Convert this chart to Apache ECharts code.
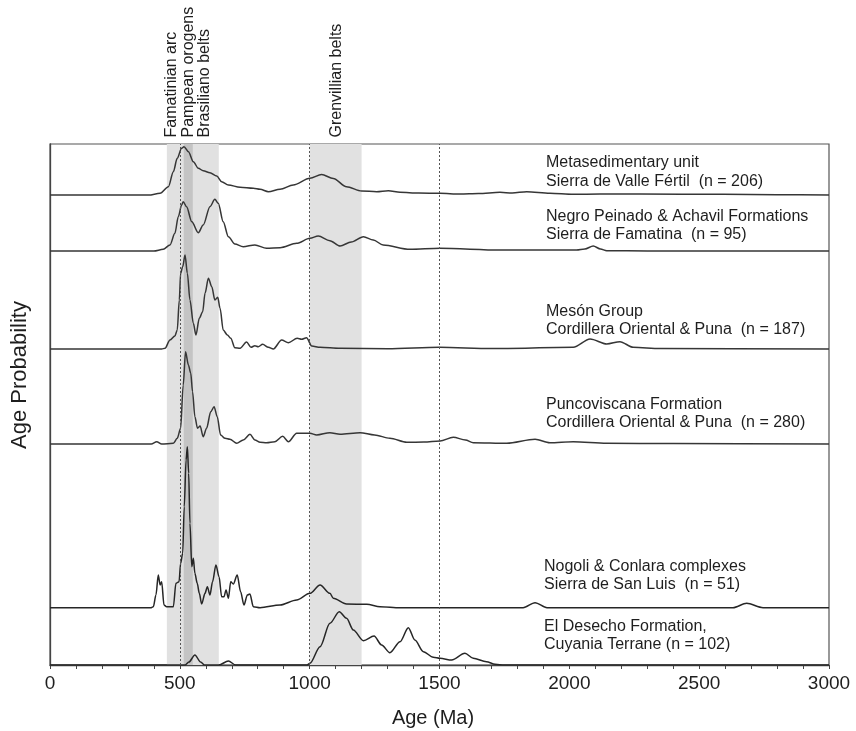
<!DOCTYPE html>
<html>
<head>
<meta charset="utf-8">
<script src="https://cdn.jsdelivr.net/npm/echarts@6/dist/echarts.min.js"></script>
<style>html,body{margin:0;padding:0;background:#fff}#c{width:856px;height:731px}</style>
</head>
<body>
<div id="c"></div>
<script>
// ---- data: [age (Ma), relative probability height] ----
const valleFertil = [[0,0],[380,0],[424,1.7],[456,8.3],[475,23.3],[490,36.7],[507,46.7],[516,48.3],[533,43.3],[552,33.3],[571,26.7],[590,24.3],[616,22.3],[642,19],[661,13.3],[687,10],[732,7.7],[783,6.7],[809,5.7],[841,3.3],[886,5.7],[937,10],[1001,16.7],[1046,20.5],[1091,16.5],[1142,8.3],[1200,4],[1258,3.3],[1303,4.3],[1348,2.7],[1420,2],[1502,1.7],[1579,1],[1650,1.5],[1733,2.7],[1780,2],[1836,3.3],[1925,1.7],[2015,0.7],[2118,1],[2272,1],[2592,0.7],[2800,0.3],[3000,0]];
const famatina = [[0,0],[400,0],[436,1.7],[462,6],[481,17.7],[494,34.3],[507,46],[513,49.3],[526,44.3],[546,29.3],[571,18.3],[590,26],[616,44.3],[635,51.7],[648,47.7],[667,29.3],[687,14.3],[712,7],[744,4.3],[789,6],[834,2.7],[886,3.3],[950,7.7],[1001,12.7],[1033,15],[1078,10.3],[1117,5],[1160,9],[1207,14.3],[1245,11],[1283,6],[1386,1.7],[1502,2.7],[1733,1],[1887,1],[2028,1],[2060,2],[2092,5],[2120,2],[2144,0.3],[2300,0],[3000,0]];
const meson = [[0,0],[430,0],[443,0.7],[462,9],[481,13],[490,19],[498,49],[503,75.7],[511,82.3],[520,94],[529,75.7],[539,49],[552,25.7],[562,14],[575,30.7],[588,37.3],[597,55.7],[610,70.7],[623,62.3],[635,49],[646,51.7],[655,40.7],[667,19],[683,14],[696,10.7],[712,1.3],[732,0.7],[757,7],[774,1.7],[789,3.3],[802,2.3],[819,4.7],[841,1.7],[860,0],[892,9],[918,6.3],[952,10.7],[969,9.7],[988,11.3],[1008,3],[1040,1.7],[1117,0.7],[1300,0.3],[1500,1.7],[1700,0.5],[2015,1.7],[2080,10],[2144,5],[2195,7.3],[2246,1.7],[2350,0.5],[3000,0]];
const puncoviscana = [[0,0],[390,0],[411,2.3],[430,0],[475,0.7],[490,5.7],[503,15.7],[513,59],[522,92.3],[533,79],[542,70.7],[549,52.3],[558,27.3],[568,15.7],[578,18],[590,7.3],[603,15.7],[619,32.3],[632,37.3],[644,27.3],[657,9],[674,5.7],[693,4.7],[719,0.7],[744,4],[770,9.7],[789,4],[809,1.7],[834,1.3],[866,2.3],[896,7.7],[918,2.3],[950,10.7],[1001,10.7],[1027,9],[1078,11.3],[1117,9.7],[1194,11.3],[1250,9],[1309,5.7],[1374,1.7],[1440,2],[1502,3],[1553,6.7],[1600,4],[1630,1.3],[1759,0.7],[1868,4.7],[1925,1.3],[2015,2.3],[2144,0.7],[2400,0.5],[3000,0]];
const sanLuis = [[0,0],[390,0],[398,1],[408,12.7],[417,32.7],[424,22.7],[430,26],[439,2.7],[449,1],[475,1],[485,24.4],[497,26],[503,44.4],[511,54.4],[517,101],[524,147.7],[529,161],[534,134.4],[539,84.4],[546,41],[552,49.4],[558,34.4],[567,24.4],[575,14.4],[584,3.7],[597,14.4],[606,21],[616,12.7],[626,26],[639,42.7],[651,31],[661,11],[670,11],[678,17.7],[687,9.4],[696,26],[706,23.7],[721,32.7],[734,16],[747,2.7],[760,12.7],[770,13.7],[783,1],[809,0],[886,2.7],[950,7.7],[1001,14.4],[1040,22.7],[1078,14.4],[1091,9.4],[1142,3.7],[1220,3.4],[1271,1],[1348,0],[1822,0],[1868,5],[1914,0],[2630,0],[2683,4.4],[2746,0],[3000,0]];
const cuyania = [[0,0],[520,0],[535,3],[558,10],[580,3],[595,0],[650,0],[687,4],[715,0],[990,0],[1001,1.7],[1040,18.3],[1078,41.7],[1114,53.3],[1142,46.7],[1168,35],[1207,24.3],[1248,29],[1277,20],[1309,12.3],[1348,23.3],[1380,37.3],[1405,25],[1438,13.3],[1476,7.7],[1502,6.7],[1547,5],[1598,11.7],[1630,6.7],[1681,3.3],[1714,0.7],[1750,0],[3000,0]];

const seriesLabels = [
  ['Metasedimentary unit', 'Sierra de Valle Fértil  (n = 206)'],
  ['Negro Peinado & Achavil Formations', 'Sierra de Famatina  (n = 95)'],
  ['Mesón Group', 'Cordillera Oriental & Puna  (n = 187)'],
  ['Puncoviscana Formation', 'Cordillera Oriental & Puna  (n = 280)'],
  ['Nogoli & Conlara complexes', 'Sierra de San Luis  (n = 51)'],
  ['El Desecho Formation,', 'Cuyania Terrane (n = 102)']
];
const bandRanges = [[450, 650], [1000, 1200]];
const darkBand = [515, 550];
const refLines = [500, 1000, 1500];
const bandLabels = ['Famatinian arc', 'Pampean orogens', 'Brasiliano belts', 'Grenvillian belts'];
const xTickLabels = ['0', '500', '1000', '1500', '2000', '2500', '3000'];
const xTitle = 'Age (Ma)';
const yTitle = 'Age Probability';

// ---- layout ----
const curves = [valleFertil, famatina, meson, puncoviscana, sanLuis, cuyania];
const baselines = [470, 414, 316, 221, 57.3, 0];
const labelPos = [[546,162.8,181.2],[546,216.8,234.5],[546,311.2,329.5],[546,404.5,422.8],[544,566.2,584.5],[544,626.8,644.5]];
const bandLabelX = [171.7, 188.3, 204.3, 336.7];
const FONT = 'Liberation Sans, Arial, Helvetica, sans-serif';
const lineColors = ['#363636','#363636','#363636','#363636','#262626','#262626'];

const chart = echarts.init(document.getElementById('c'), null, {renderer: 'canvas'});

const series = [{
  type: 'line', data: [], silent: true, z: 1,
  markArea: {
    silent: true,
    data: bandRanges.map(r => [{xAxis: r[0], itemStyle: {color: '#e1e1e1', opacity: 1}}, {xAxis: r[1]}])
      .concat([[{xAxis: darkBand[0], itemStyle: {color: '#c4c4c4', opacity: 1}}, {xAxis: darkBand[1]}]])
  },
  markLine: {
    silent: true, symbol: 'none', label: {show: false},
    lineStyle: {color: '#555', type: [2, 2], width: 1},
    data: refLines.map(v => ({xAxis: v}))
  }
}];
curves.forEach((c, i) => {
  series.push({
    type: 'line', z: 3, silent: true, showSymbol: false,
    smooth: 0.3, smoothMonotone: 'x',
    lineStyle: {color: lineColors[i], width: 1.5},
    data: c.map(p => [p[0], p[1] + baselines[i]])
  });
});

const graphic = [];
seriesLabels.forEach((lines, i) => {
  graphic.push({type: 'text', x: labelPos[i][0], y: labelPos[i][1], style: {text: lines[0], font: '16px ' + FONT, fill: '#1e1e1e', verticalAlign: 'middle', align: 'left'}, z: 10});
  graphic.push({type: 'text', x: labelPos[i][0], y: labelPos[i][2], style: {text: lines[1], font: '16px ' + FONT, fill: '#1e1e1e', verticalAlign: 'middle', align: 'left'}, z: 10});
});
bandLabels.forEach((t, i) => {
  graphic.push({type: 'text', x: bandLabelX[i], y: 137.5, rotation: Math.PI / 2, style: {text: t, font: '16px ' + FONT, fill: '#1e1e1e', verticalAlign: 'middle', align: 'left'}, z: 10});
});
graphic.push({type: 'text', x: 20, y: 375, rotation: Math.PI / 2, style: {text: yTitle, font: '22px ' + FONT, fill: '#1e1e1e', verticalAlign: 'middle', align: 'center'}, z: 10});
graphic.push({type: 'text', x: 433, y: 718, style: {text: xTitle, font: '20px ' + FONT, fill: '#1e1e1e', verticalAlign: 'middle', align: 'center'}, z: 10});

chart.setOption({
  animation: false,
  backgroundColor: '#fff',
  grid: {left: 50, right: 27, top: 144, bottom: 66, show: true, borderColor: '#555', borderWidth: 1.2, backgroundColor: 'transparent'},
  xAxis: {
    type: 'value', min: 0, max: 3000, interval: 100,
    axisLine: {show: true, lineStyle: {color: '#444', width: 1.3}},
    axisTick: {show: true, length: 4, lineStyle: {color: '#444'}},
    splitLine: {show: false},
    axisLabel: {
      fontSize: 19, color: '#1e1e1e', fontFamily: FONT, margin: 9,
      formatter: v => (v % 500 === 0 ? xTickLabels[v / 500] : ''),
      showMinLabel: true, showMaxLabel: true, hideOverlap: false
    }
  },
  yAxis: {
    type: 'value', min: 0, max: 521,
    axisLine: {show: true, lineStyle: {color: '#444', width: 1.3}},
    axisTick: {show: false}, axisLabel: {show: false}, splitLine: {show: false}
  },
  graphic: graphic,
  series: series
});
</script>
</body>
</html>
